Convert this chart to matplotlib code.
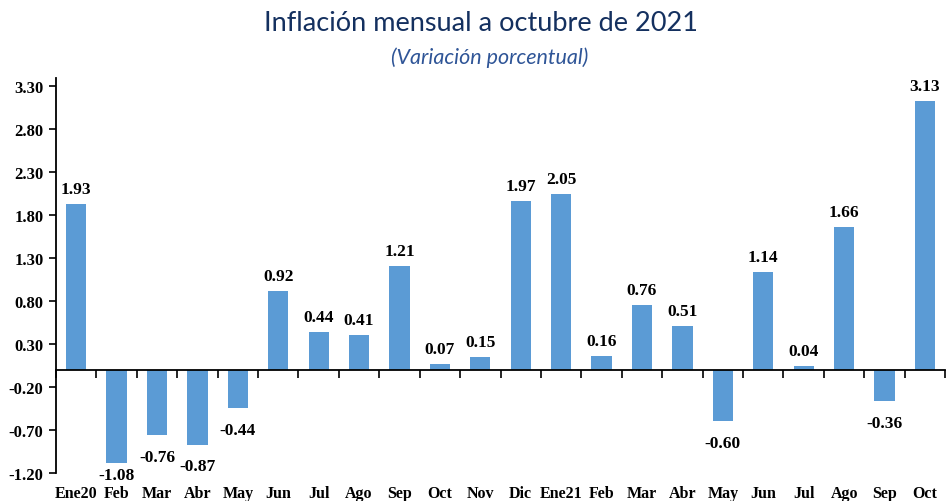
import numpy as np
import matplotlib.pyplot as plt
from matplotlib.transforms import blended_transform_factory

meses = ['Ene20', 'Feb', 'Mar', 'Abr', 'May', 'Jun', 'Jul', 'Ago', 'Sep', 'Oct', 'Nov',
         'Dic', 'Ene21', 'Feb', 'Mar', 'Abr', 'May', 'Jun', 'Jul', 'Ago', 'Sep', 'Oct']
inflacion = [1.93, -1.08, -0.76, -0.87, -0.44, 0.92, 0.44, 0.41, 1.21, 0.07, 0.15,
             1.97, 2.05, 0.16, 0.76, 0.51, -0.60, 1.14, 0.04, 1.66, -0.36, 3.13]
yticks = [-1.20, -0.70, -0.20, 0.30, 0.80, 1.30, 1.80, 2.30, 2.80, 3.30]

serif = 'Liberation Serif'

fig = plt.figure(figsize=(9.48, 5.02), dpi=100)
ax = fig.add_axes([0.059, 0.056, 0.938, 0.787])

x = np.arange(len(meses))
ax.bar(x, inflacion, width=0.5, color='#5B9BD5')

ax.set_xlim(-0.5, len(meses) - 0.5)
ax.set_ylim(-1.20, 3.40)

ax.spines['top'].set_visible(False)
ax.spines['right'].set_visible(False)
ax.spines['bottom'].set_position(('data', 0))
ax.spines['left'].set_linewidth(1.3)
ax.spines['bottom'].set_linewidth(1.3)

ax.set_yticks(yticks)
ax.set_yticklabels(['%.2f' % v for v in yticks], fontfamily=serif, fontweight='bold', fontsize=12)
ax.tick_params(axis='y', direction='out', length=5, width=1.2, pad=4)

ax.set_xticks(np.arange(len(meses) + 1) - 0.5)
ax.set_xticklabels([])
ax.tick_params(axis='x', direction='out', length=6, width=1.2)

trans = blended_transform_factory(ax.transData, ax.transAxes)
for i, m in enumerate(meses):
    ax.text(i, -0.05, m, transform=trans, ha='center', va='center',
            fontfamily=serif, fontweight='bold', fontsize=11.5)

for i, v in enumerate(inflacion):
    if v >= 0:
        ax.annotate('%.2f' % v, (i, v), xytext=(0, 5), textcoords='offset points',
                    ha='center', va='bottom', fontfamily=serif, fontweight='bold', fontsize=12.5)
    else:
        # deepest bar keeps its label tight so it stays above the month names
        off = -3 if v < -1.0 else -10
        ax.annotate('%.2f' % v, (i, v), xytext=(0, off), textcoords='offset points',
                    ha='center', va='top', fontfamily=serif, fontweight='bold', fontsize=12.5)

fig.text(0.507, 0.953, 'Inflación mensual a octubre de 2021', ha='center', va='center',
         fontfamily='Lato', fontsize=19.5, color='#14305F')
fig.text(0.517, 0.886, '(Variación porcentual)', ha='center', va='center',
         fontfamily='Lato', fontstyle='italic', fontsize=15.5, color='#2F5597')

plt.savefig('out.png')
